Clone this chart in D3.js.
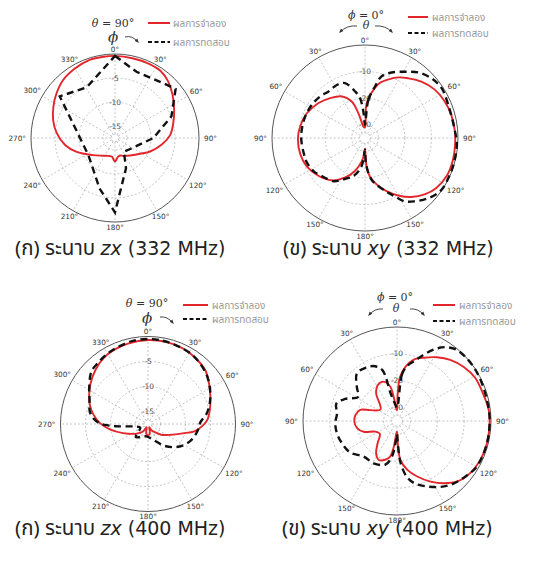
<!DOCTYPE html>
<html>
<head>
<meta charset="utf-8">
<script src="https://cdn.jsdelivr.net/npm/d3@7"></script>
<style>
  body { margin: 0; background: #fff; }
  svg { display: block; }
</style>
</head>
<body>
<svg id="fig" width="538" height="563"></svg>
<script>
// ---- data (angle in degrees clockwise from top, gain in dB) ----

// (ก) zx plane, 332 MHz
const simZx332Deg = [0, 13, 23, 34, 43, 53, 65, 76, 87, 98, 111, 122, 133, 145, 155, 164, 172, 176, 180, 184, 188, 195, 201, 215, 232, 250, 262, 275, 286, 297, 307, 318, 330, 342, 352];
const simZx332Db  = [-0.4, -0.5, -0.5, -0.6, -1.3, -2.5, -3.9, -5.0, -6.0, -7.65, -9.65, -11.3, -12.3, -13.0, -13.4, -13.7, -13.5, -13.0, -12.6, -13.0, -13.5, -13.6, -13.5, -13.0, -11.7, -9.0, -7.0, -5.3, -4.1, -3.1, -2.2, -1.3, -0.8, -0.4, -0.4];
const measZx332Deg = [0, 18, 41, 51, 69, 90, 126, 147, 160, 180, 197, 237, 307, 331];
const measZx332Db  = [-0.4, -3.0, -2.3, -1.25, -4.9, -9.5, -13.6, -14.1, -10.8, -2.0, -6.5, -10.9, -3.1, -5.4];

// (ข) xy plane, 332 MHz
const simXy332Deg = [0, 2, 5, 10, 15, 22, 29, 36, 45, 55, 65, 75, 85, 93, 104, 115, 125, 133, 142, 150, 158, 166, 173, 177, 180, 183, 188, 197, 207, 218, 231, 244, 256, 269, 280, 293, 307, 319, 331, 340, 345, 350, 355];
const simXy332Db  = [-31, -23.1, -20, -16.6, -13.6, -11.2, -8.9, -7.25, -5, -3.1, -2.0, -1.4, -1.1, -1.0, -0.9, -1.1, -2.25, -4, -6.8, -10, -13.4, -17, -20.5, -24.4, -31, -29, -26.1, -22, -18.25, -14.75, -12.4, -10.6, -9.9, -9.75, -10.2, -11.2, -13.1, -15.1, -17.1, -20.4, -25.3, -30, -31];
const measXy332Deg = [0, 5, 11, 15, 22, 31, 39, 48, 57, 72, 85, 93, 104, 114, 125, 134, 142, 148, 153, 159, 171, 178, 180, 187, 197, 209, 216, 229, 237, 247, 256, 269, 279, 290, 302, 313, 322, 332, 340, 348, 353, 357];
const measXy332Db  = [-30, -20.6, -15.25, -11, -8.4, -5.9, -3.25, -1.4, -0.6, -1.4, -1.1, -0.4, -0.25, -0.2, -0.3, -2.25, -4.75, -6.9, -10.4, -13.6, -19.1, -25.6, -30.6, -24.25, -20, -17.1, -14.9, -13.25, -12, -11.25, -11.25, -11, -11, -11.1, -11.4, -12, -12.75, -12.4, -13, -17.1, -19.9, -26];

// (ก) zx plane, 400 MHz
const simZx400Deg = [0, 13, 25, 36, 47, 56, 66, 77, 86, 92, 99, 105, 115, 129, 140, 150, 158, 164, 169, 175, 180, 185, 191, 196, 202, 214, 230, 250, 262, 271, 280, 287, 295, 305, 316, 326, 335, 346];
const simZx400Db  = [-0.7, -0.7, -0.86, -1.25, -1.8, -2.8, -3.85, -4.8, -5.6, -6.6, -8.1, -10.3, -12.4, -14.1, -15.4, -16.0, -16.8, -16.4, -15.6, -15.3, -15.2, -15.3, -15.6, -16.4, -16.8, -15.7, -14.5, -12.2, -9.8, -7.9, -6.4, -5.4, -4.5, -3.45, -2.4, -1.6, -1.2, -0.93];
const measZx400Deg = [0, 10, 20, 30, 40, 50, 60, 70, 80, 88, 98, 111, 122, 133, 145, 162, 188, 208, 223, 245, 258, 264, 266, 268, 271, 276, 282, 293, 303, 313, 321, 329, 338, 349];
const measZx400Db  = [-0.5, -0.6, -0.8, -1.0, -1.5, -2.2, -3.2, -4.3, -5.6, -7.0, -7.5, -8.3, -9.35, -10.7, -12.3, -14.2, -15.0, -14.6, -13.9, -15.8, -15.0, -13.0, -11.0, -9.5, -7.8, -6.5, -5.6, -4.8, -3.5, -2.05, -1.7, -1.3, -1.0, -0.6];

// (ข) xy plane, 400 MHz
const simXy400Deg = [0, 1.5, 4, 9, 15, 23, 32, 41, 51, 61, 72, 83, 91, 104, 115, 125, 135, 143, 151, 160, 168, 175, 178, 180, 183, 187, 191, 197, 205, 213, 221, 233, 244, 252, 260, 269, 278, 287, 292, 305, 323, 332, 341, 349, 352, 356];
const simXy400Db  = [-31, -24.7, -18.5, -14.5, -11.4, -9.4, -7.0, -4.8, -3.0, -1.75, -1.4, -0.6, -0.5, -0.5, -0.75, -1.5, -3.2, -6, -9.2, -13, -16.4, -20.5, -26.7, -31, -30.4, -25.3, -21.5, -19.9, -19, -20.7, -24, -27, -26, -22, -19.9, -19.1, -19.35, -20.7, -24.2, -27.5, -22.1, -19.8, -19.5, -22, -25.8, -30];
const measXy400Deg = [0, 6, 10, 17, 23, 29, 34, 40, 47, 56, 66, 77, 87, 96, 104, 113, 121, 129, 138, 147, 155, 164, 170, 175, 178, 180, 184, 188, 195, 209, 223, 236, 248, 258, 268, 277, 286, 293, 302, 310, 320, 331, 338, 344, 347, 352];
const measXy400Db  = [-30, -17.75, -14.4, -11.3, -7.7, -4.1, -1.85, -0.4, -0.1, -0.1, -0.4, -0.6, -0.5, -0.5, -0.5, -0.6, -0.9, -2.2, -3.6, -5.7, -8.1, -10.8, -13.9, -19.2, -26.7, -30, -26.7, -21.6, -18.2, -17, -16.9, -14, -12.9, -12.2, -12, -12.5, -11.5, -14.0, -18.0, -15.5, -11.8, -12.1, -13, -15.3, -24.4, -28];

// tick and ring labels
const zxTicks = ["0°", "30°", "60°", "90°", "120°", "150°", "180°", "210°", "240°", "270°", "300°", "330°"];
const xyTicks = ["0°", "30°", "60°", "90°", "120°", "150°", "180°", "150°", "120°", "90°", "60°", "30°"];
const zxRings = [-15, -10, -5];
const xyRings = [-30, -20, -10];
const zxRingLabels = ["-15", "-10", "-5"];
const xyRingLabels = ["-30", "-20", "-10"];

const legendSim = "ผลการจำลอง";
const legendMeas = "ผลการทดสอบ";

const capPrefix = ["(ก) ระนาบ ", "(ข) ระนาบ ", "(ก) ระนาบ ", "(ข) ระนาบ "];
const capPlane = ["zx", "xy", "zx", "xy"];
const capFreq = [" (332 MHz)", " (332 MHz)", " (400 MHz)", " (400 MHz)"];

// ---- drawing ----
const svg = d3.select("#fig");
svg.append("rect").attr("width", 538).attr("height", 563).attr("fill", "#fff");

svg.append("defs").append("marker")
  .attr("id", "ah").attr("viewBox", "0 0 10 10")
  .attr("refX", 7).attr("refY", 5)
  .attr("markerWidth", 5).attr("markerHeight", 5)
  .attr("orient", "auto")
  .append("path").attr("d", "M0,1 L10,5 L0,9 Z").attr("fill", "#333");

const RED = "#e3262b";
const serif = "'DejaVu Serif', 'Liberation Serif', serif";
const sans = "'DejaVu Sans', Verdana, sans-serif";
const thai = "'Noto Sans', 'Noto Sans Thai', Tahoma, sans-serif";

const panels = [
  { cx: 115, cy: 138, r: 84, min: -17.5, inner: -16.7, rings: zxRings, ringLabels: zxRingLabels, ticks: zxTicks,
    sim: [simZx332Deg, simZx332Db], meas: [measZx332Deg, measZx332Db], measCurve: d3.curveLinearClosed, kind: "zx",
    head: { title: [-2, -111], sym: [-2, -96], arrows: [[10, -101, 17, -103, 23, -96]],
            leg: { x0: 33, x1: 55, y1: -115, y2: -96, tx: 58 } } },
  { cx: 365, cy: 138, r: 93, min: -35, inner: -33, rings: xyRings, ringLabels: xyRingLabels, ticks: xyTicks,
    sim: [simXy332Deg, simXy332Db], meas: [measXy332Deg, measXy332Db], measCurve: d3.curveCatmullRomClosed.alpha(0.5), kind: "xy",
    head: { title: [1, -119], sym: [1, -109], arrows: [[-8, -112, -18, -113, -25, -106], [10, -112, 20, -113, 27, -106]],
            leg: { x0: 43, x1: 63, y1: -121, y2: -105, tx: 67 } } },
  { cx: 148, cy: 424, r: 87.5, min: -17.5, inner: -16.7, rings: zxRings, ringLabels: zxRingLabels, ticks: zxTicks,
    sim: [simZx400Deg, simZx400Db], meas: [measZx400Deg, measZx400Db], measCurve: d3.curveCatmullRomClosed.alpha(0.5), kind: "zx",
    head: { title: [-1, -117], sym: [-1, -101], arrows: [[12, -107, 19, -108, 25, -101]],
            leg: { x0: 35, x1: 60, y1: -119, y2: -105, tx: 64 } } },
  { cx: 397, cy: 421, r: 94, min: -35, inner: -33, rings: xyRings, ringLabels: xyRingLabels, ticks: xyTicks,
    sim: [simXy400Deg, simXy400Db], meas: [measXy400Deg, measXy400Db], measCurve: d3.curveCatmullRomClosed.alpha(0.5), kind: "xy",
    head: { title: [-2, -120], sym: [-1, -109], arrows: [[-14, -112, -22, -113, -28, -106], [13, -112, 21, -113, 27, -106]],
            leg: { x0: 36, x1: 58, y1: -116, y2: -100, tx: 62 } } }
];

function drawPanel(p) {
  const g = svg.append("g").attr("transform", `translate(${p.cx},${p.cy})`);
  const rs = d3.scaleLinear().domain([p.min, 0]).range([0, p.r]).clamp(true);

  // grid rings + spokes
  g.selectAll("circle.ring").data([p.inner, ...p.rings]).join("circle")
    .attr("class", "ring").attr("r", d => rs(d))
    .attr("fill", "none").attr("stroke", "#b5b5b5").attr("stroke-width", 0.8).attr("stroke-dasharray", "2,2");
  g.selectAll("line.spoke").data(d3.range(0, 360, 30)).join("line")
    .attr("class", "spoke")
    .attr("x1", d => rs(p.inner) * Math.sin(d * Math.PI / 180))
    .attr("y1", d => -rs(p.inner) * Math.cos(d * Math.PI / 180))
    .attr("x2", d => p.r * Math.sin(d * Math.PI / 180))
    .attr("y2", d => -p.r * Math.cos(d * Math.PI / 180))
    .attr("stroke", "#b5b5b5").attr("stroke-width", 0.8).attr("stroke-dasharray", "2,2");
  g.append("circle").attr("r", p.r).attr("fill", "none").attr("stroke", "#555").attr("stroke-width", 1);

  // ring labels on the 0 deg spoke
  g.selectAll("text.rl").data(p.rings).join("text")
    .attr("class", "rl")
    .attr("x", 0).attr("y", d => -rs(d))
    .attr("text-anchor", "middle").attr("dominant-baseline", "central")
    .attr("font-family", sans).attr("font-size", 7.5).attr("fill", "#555")
    .text((d, i) => p.ringLabels[i]);

  // angle labels
  g.selectAll("text.tk").data(p.ticks).join("text")
    .attr("class", "tk")
    .attr("text-anchor", "middle").attr("dominant-baseline", "central")
    .attr("font-family", sans).attr("font-size", 7.3).attr("fill", "#333")
    .text(d => d)
    .each(function (d, i) {
      const a = i * 30 * Math.PI / 180;
      const w = this.getComputedTextLength();
      const rho = p.r + 5 + (w / 2) * Math.sin(a) * Math.sin(a);
      d3.select(this).attr("x", rho * Math.sin(a)).attr("y", -rho * Math.cos(a));
    });

  // curves
  const simLine = d3.lineRadial()
    .angle(d => d[0] * Math.PI / 180).radius(d => rs(d[1]))
    .curve(d3.curveCatmullRomClosed.alpha(0.5));
  const measLine = d3.lineRadial()
    .angle(d => d[0] * Math.PI / 180).radius(d => rs(d[1]))
    .curve(p.measCurve);

  g.append("path").datum(d3.zip(p.sim[0], p.sim[1]))
    .attr("d", simLine).attr("fill", "none").attr("stroke", RED).attr("stroke-width", 1.9);
  g.append("path").datum(d3.zip(p.meas[0], p.meas[1]))
    .attr("d", measLine).attr("fill", "none").attr("stroke", "#111").attr("stroke-width", 2.4)
    .attr("stroke-dasharray", "7,4.5");

  // header: plane note + rotation arrows
  const h = p.head;
  const title = g.append("text").attr("x", h.title[0]).attr("y", h.title[1])
    .attr("text-anchor", "middle").attr("font-family", serif).attr("font-size", 11).attr("fill", "#333");
  title.append("tspan").attr("font-style", "italic").text(p.kind === "zx" ? "θ" : "ϕ");
  title.append("tspan").text(p.kind === "zx" ? " = 90°" : " = 0°");
  g.append("text").attr("x", h.sym[0]).attr("y", h.sym[1])
    .attr("text-anchor", "middle").attr("font-family", serif).attr("font-style", "italic")
    .attr("font-size", p.kind === "zx" ? 15 : 11).attr("fill", "#333")
    .text(p.kind === "zx" ? "ϕ" : "θ");
  h.arrows.forEach(a => {
    g.append("path").attr("d", `M${a[0]},${a[1]} Q${a[2]},${a[3]} ${a[4]},${a[5]}`)
      .attr("fill", "none").attr("stroke", "#333").attr("stroke-width", 0.9)
      .attr("marker-end", "url(#ah)");
  });

  // legend
  const L = h.leg;
  g.append("line").attr("x1", L.x0).attr("x2", L.x1).attr("y1", L.y1).attr("y2", L.y1)
    .attr("stroke", RED).attr("stroke-width", 2);
  g.append("line").attr("x1", L.x0).attr("x2", L.x1).attr("y1", L.y2).attr("y2", L.y2)
    .attr("stroke", "#111").attr("stroke-width", 2.2).attr("stroke-dasharray", "4,2.5");
  g.append("text").attr("x", L.tx).attr("y", L.y1).attr("dominant-baseline", "central")
    .attr("font-family", thai).attr("font-size", 10).attr("fill", "#999").text(legendSim);
  g.append("text").attr("x", L.tx).attr("y", L.y2).attr("dominant-baseline", "central")
    .attr("font-family", thai).attr("font-size", 10).attr("fill", "#999").text(legendMeas);
}

panels.forEach(drawPanel);

// captions: Thai part in the Thai face, Latin part in DejaVu
const capPos = [[15, 255], [283, 255], [15, 535], [282, 535]];
capPos.forEach((c, i) => {
  const t = svg.append("text").attr("x", c[0]).attr("y", c[1])
    .attr("font-size", 19).attr("fill", "#222");
  t.append("tspan").attr("font-family", thai).attr("font-size", 20.5).text(capPrefix[i]);
  t.append("tspan").attr("font-family", "'DejaVu Sans', sans-serif").attr("font-style", "italic").text(capPlane[i]);
  t.append("tspan").attr("font-family", "'DejaVu Sans', sans-serif").text(capFreq[i]);
});
</script>
</body>
</html>
